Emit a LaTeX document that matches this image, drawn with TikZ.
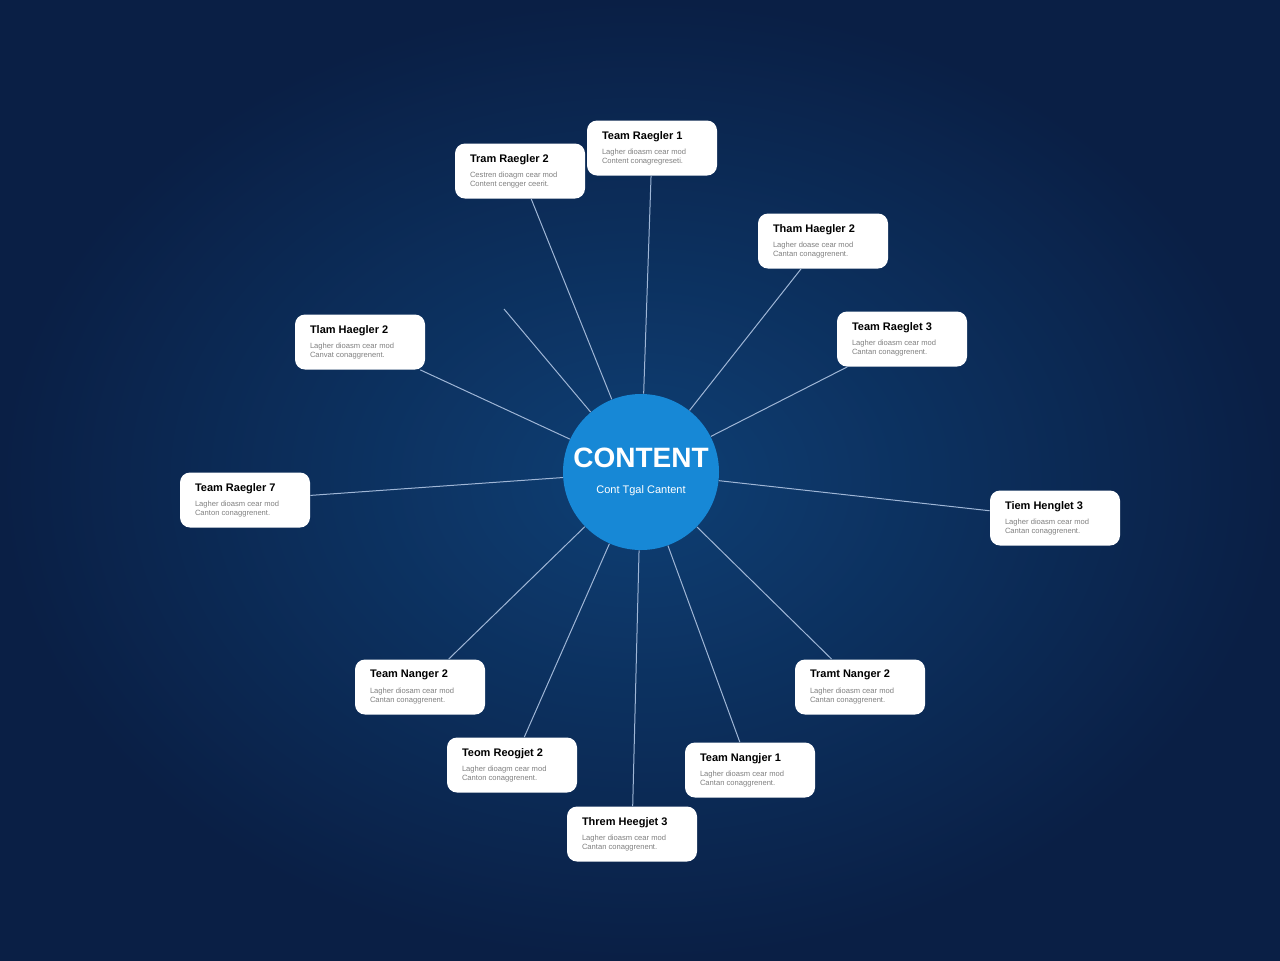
\documentclass[tikz,border=0pt]{standalone}
\usepackage{fontspec}
\setmainfont{Liberation Sans}
\usetikzlibrary{shapes.geometric}
\definecolor{bgin}{HTML}{0E3F74}
\definecolor{bgout}{HTML}{0A1F45}
\definecolor{hub}{HTML}{1788D6}
\definecolor{wire}{HTML}{9FB6D6}
\begin{document}
\begin{tikzpicture}[x=0.5pt,y=-0.5pt,
  card/.style={draw=none,fill=white,rounded corners=5pt,minimum width=65pt,minimum height=27.5pt,align=left,inner sep=0pt},
  wireline/.style={draw=wire,line width=0.5pt}]
\shade[inner color=bgin,outer color=bgout] (0,0) rectangle (1280,960);
\useasboundingbox (0,0) rectangle (1280,960);
\newcommand{\crd}[4]{\node[card] (#1) at (#2) {\begin{minipage}{50pt}\fontsize{5.5}{6}\selectfont\bfseries #3\\[3pt]\fontsize{3.8}{4.6}\selectfont\mdseries\color{gray}#4\end{minipage}};}
\node[circle,fill=hub,minimum size=78pt,inner sep=0pt,align=center,text=white] (c) at (641,472)
 {\fontsize{14}{16}\selectfont\bfseries CONTENT\\[1pt]\fontsize{5.5}{6}\selectfont Cont Tgal Cantent};
\crd{k1}{652,148}{Team Raegler 1}{Lagher dioasm cear mod\\Content conagregreseti.}
\crd{k2}{520,171}{Tram Raegler 2}{Cestren dioagm cear mod\\Content cengger ceerit.}
\crd{k3}{823,241}{Tham Haegler 2}{Lagher doase cear mod\\Cantan conaggrenent.}
\crd{k4}{902,339}{Team Raeglet 3}{Lagher dioasm cear mod\\Cantan conaggrenent.}
\crd{k5}{360,342}{Tlam Haegler 2}{Lagher dioasm cear mod\\Canvat conaggrenent.}
\crd{k6}{245,500}{Team Raegler 7}{Lagher dioasm cear mod\\Canton conaggrenent.}
\crd{k7}{1055,518}{Tiem Henglet 3}{Lagher dioasm cear mod\\Cantan conaggrenent.}
\crd{k8}{420,687}{Team Nanger 2}{Lagher diosam cear mod\\Cantan conaggrenent.}
\crd{k9}{860,687}{Tramt Nanger 2}{Lagher dioasm cear mod\\Cantan conaggrenent.}
\crd{k10}{512,765}{Teom Reogjet 2}{Lagher dioagm cear mod\\Canton conaggrenent.}
\crd{k11}{750,770}{Team Nangjer 1}{Lagher dioasm cear mod\\Cantan conaggrenent.}
\crd{k12}{632,834}{Threm Heegjet 3}{Lagher dioasm cear mod\\Cantan conaggrenent.}
\coordinate (d) at (504,309);
\begin{scope}[on background layer/.style={}]
\foreach \k in {k1,k2,k3,k4,k5,k6,k7,k8,k9,k10,k11,k12}{\draw[wireline] (c) -- (\k);}
\draw[wireline] (d) -- (c);
\end{scope}
\end{tikzpicture}
\end{document}
